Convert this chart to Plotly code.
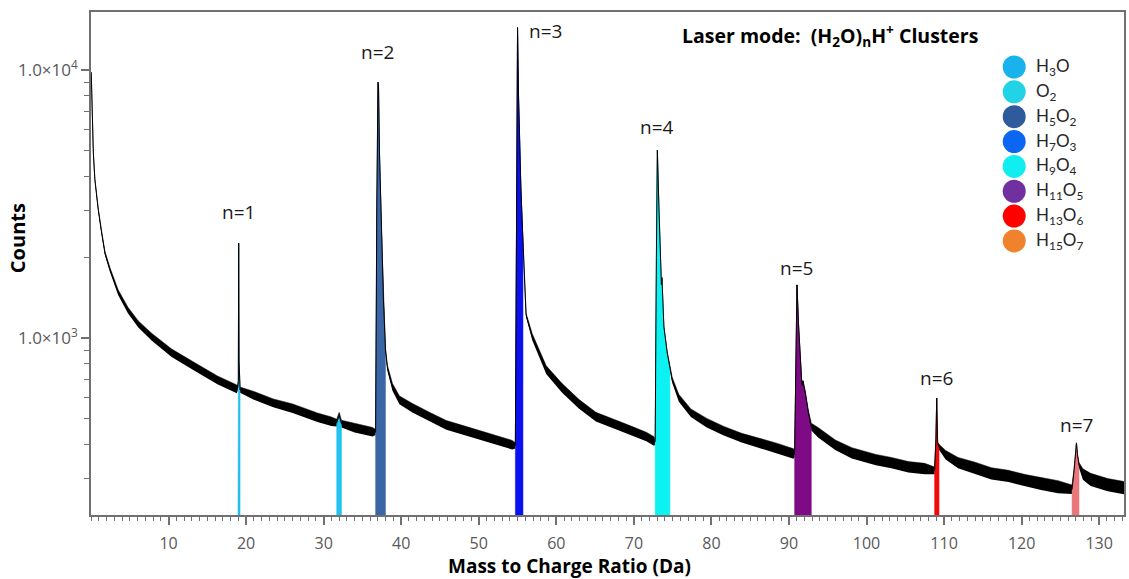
import plotly.graph_objects as go
import math

# ---------------- data ----------------
mz = [0.03, 0.17, 0.30, 0.50, 0.73, 0.94, 1.37, 1.80, 2.45, 3.09, 3.50, 4.76, 6.10, 7.85,
      10.4, 13.4, 16.3, 18.8, 18.92, 19.00, 19.04, 19.09, 19.22, 21.0, 23.5, 26.0, 29.2,
      31.0, 31.68, 32.0, 32.3, 34.0, 36.3, 36.70, 36.85, 37.00, 37.07, 37.19, 37.45, 37.71,
      37.97, 38.22, 38.87, 39.77, 41.44, 43.63, 45.82, 47.88, 50.06, 52.25, 54.31, 54.72,
      54.88, 55.00, 55.13, 55.28, 55.43, 55.64, 55.70, 55.86, 56.10, 56.90, 57.80, 58.70,
      60.75, 62.90, 65.10, 67.20, 69.40, 71.60, 72.60, 72.75, 72.90, 73.03, 73.23, 73.45,
      73.55, 73.62, 73.75, 73.87, 74.30, 74.65, 74.94, 75.80, 77.35, 79.40, 81.60, 83.90,
      86.10, 88.30, 90.60, 90.73, 90.90, 91.03, 91.25, 91.47, 91.64, 91.70, 91.80, 92.10,
      92.50, 92.88, 93.80, 95.97, 98.10, 101.2, 103.2, 105.4, 107.5, 108.78, 108.95, 109.05,
      109.17, 109.35, 110.2, 111.8, 114.0, 116.1, 118.3, 120.5, 122.5, 124.7, 126.5, 126.77,
      127.07, 127.2, 127.4, 127.9, 128.9, 131.1, 133.2]
counts = [9800, 5970, 4900, 3890, 3360, 3000, 2470, 2070, 1795, 1600, 1480, 1270, 1125, 1008,
          879, 780, 697, 645, 652, 690, 2260, 820, 640, 610, 572, 546, 505,
          488, 482, 515, 478, 462, 446, 445, 3000, 9000, 8900, 5020, 2530, 1387,
          902, 773, 656, 587, 548, 508, 473, 454, 435, 416, 399, 397,
          3000, 14400, 7930, 5020, 3660, 2530, 2280, 1718, 1218, 1008, 879, 760,
          650, 568, 508, 482, 454, 428, 412, 410, 2000, 5020, 3080, 1905,
          1580, 1680, 1327, 1100, 879, 760, 697, 597, 525, 482, 450, 424,
          406, 389, 370, 368, 800, 1578, 1100, 780, 686, 665, 690, 624,
          525, 466, 443, 399, 372, 351, 342, 330, 325, 320, 420, 597,
          406, 392, 366, 342, 327, 312, 305, 294, 286, 278, 272, 321,
          406, 366, 335, 310, 296, 283, 276]
# relative half-width of the noise band around the trace
noise = [0.004, 0.006, 0.008, 0.01, 0.012, 0.013, 0.015, 0.017, 0.019, 0.021, 0.023, 0.026, 0.029, 0.032,
         0.035, 0.036, 0.036, 0.036, 0.025, 0.01, 0.0, 0.01, 0.025, 0.036, 0.036, 0.04, 0.04,
         0.04, 0.032, 0.025, 0.032, 0.04, 0.04, 0.025, 0.0, 0.0, 0.0, 0.0, 0.0, 0.008,
         0.016, 0.024, 0.032, 0.036, 0.04, 0.04, 0.04, 0.04, 0.04, 0.04, 0.04, 0.025,
         0.0, 0.0, 0.0, 0.0, 0.0, 0.004, 0.004, 0.008, 0.016, 0.028, 0.032, 0.036,
         0.04, 0.04, 0.04, 0.04, 0.04, 0.04, 0.04, 0.025, 0.0, 0.0, 0.0, 0.0,
         0.0, 0.0, 0.004, 0.008, 0.012, 0.016, 0.024, 0.032, 0.036, 0.04, 0.04, 0.04,
         0.044, 0.044, 0.044, 0.025, 0.0, 0.0, 0.0, 0.004, 0.008, 0.008, 0.008, 0.016,
         0.024, 0.032, 0.044, 0.044, 0.048, 0.048, 0.048, 0.048, 0.048, 0.032, 0.008, 0.0,
         0.008, 0.024, 0.04, 0.048, 0.052, 0.052, 0.052, 0.052, 0.056, 0.056, 0.04, 0.016,
         0.0, 0.008, 0.024, 0.048, 0.056, 0.056, 0.056]

species = ["H<sub>3</sub>O", "O<sub>2</sub>", "H<sub>5</sub>O<sub>2</sub>", "H<sub>7</sub>O<sub>3</sub>",
           "H<sub>9</sub>O<sub>4</sub>", "H<sub>11</sub>O<sub>5</sub>", "H<sub>13</sub>O<sub>6</sub>",
           "H<sub>15</sub>O<sub>7</sub>"]
legend_colors = ["#1AB2EC", "#22D3E6", "#2F5A9C", "#0B66F2", "#10EEF0", "#7030A0", "#FF0000", "#F0822E"]
fill_colors = ["#22BDF0", "#21C4EE", "#3A66A6", "#0A10EE", "#0CF2F2", "#7E0A86", "#F00A0A", "#E8767A"]
range_lo = [18.92, 31.68, 36.70, 54.72, 72.75, 90.73, 108.78, 126.5]
range_hi = [19.22, 32.30, 37.97, 55.70, 74.65, 92.88, 109.35, 127.4]

cluster_labels = ["n=1", "n=2", "n=3", "n=4", "n=5", "n=6", "n=7"]
cluster_mz = [19.04, 37.00, 55.00, 73.03, 91.03, 109.05, 127.07]

x_ticks = [10, 20, 30, 40, 50, 60, 70, 80, 90, 100, 110, 120, 130]
y_ticks = [1000, 10000]
y_ticktext = ["1.0×10<sup>3</sup>", "1.0×10<sup>4</sup>"]
y_minor = [300, 400, 500, 600, 700, 800, 900, 2000, 3000, 4000, 5000, 6000, 7000, 8000, 9000]

# ---------------- figure ----------------
fig = go.Figure()

upper = [c * (1 + s) for c, s in zip(counts, noise)]
lower = [c / (1 + s) for c, s in zip(counts, noise)]

fig.add_trace(go.Scatter(x=mz, y=lower, mode="lines", line=dict(color="black", width=0),
                         showlegend=False, hoverinfo="skip"))
fig.add_trace(go.Scatter(x=mz, y=upper, mode="lines", line=dict(color="black", width=0.5),
                         fill="tonexty", fillcolor="black", showlegend=False, hoverinfo="skip"))

FLOOR = 100
for name, col, lo, hi in zip(species, fill_colors, range_lo, range_hi):
    xs = [m for m in mz if lo <= m <= hi]
    ys = [c for m, c in zip(mz, counts) if lo <= m <= hi]
    px = [xs[0]] + xs + [xs[-1], xs[0]]
    py = [FLOOR] + ys + [FLOOR, FLOOR]
    fig.add_trace(go.Scatter(x=px, y=py, mode="lines", fill="toself", fillcolor=col,
                             line=dict(color=col, width=0.5), name=name, showlegend=False))

fig.add_trace(go.Scatter(x=mz, y=counts, mode="lines", line=dict(color="black", width=1),
                         showlegend=False, name="Counts"))

FRAME = "#707070"

fig.update_xaxes(range=[0, 133.2], tickmode="array", tickvals=x_ticks,
                 ticks="outside", ticklen=8, tickwidth=1.5, tickcolor=FRAME,
                 minor=dict(dtick=1, tick0=0, ticks="outside", ticklen=4, tickwidth=1, tickcolor=FRAME),
                 showline=True, linecolor=FRAME, linewidth=1.5, mirror=True, ticklabelstandoff=5,
                 showgrid=False, zeroline=False, tickfont=dict(family="Open Sans", size=16, color="#595959"))
fig.update_yaxes(type="log", range=[2.3396, 4.2164], tickmode="array", tickvals=y_ticks,
                 ticktext=y_ticktext, ticks="outside", ticklen=8, tickwidth=1.5, tickcolor=FRAME,
                 minor=dict(tickmode="array", tickvals=y_minor, ticks="outside", ticklen=5,
                            tickwidth=1, tickcolor=FRAME),
                 showline=True, linecolor=FRAME, linewidth=1.5, mirror=True,
                 showgrid=False, zeroline=False, tickfont=dict(family="Open Sans", size=17, color="#595959"))

L, R, T, B = 91, 3, 12, 64
W, H = 1129, 579
pw, ph = W - L - R, H - T - B

def paper_x(px):
    return (px - L) / pw

def paper_y(py):
    return (H - B - py) / ph

annotations = []
# axis titles
annotations.append(dict(text="<b>Counts</b>", x=paper_x(18), y=paper_y(238), xref="paper", yref="paper",
                        xanchor="center", yanchor="middle", textangle=-90, showarrow=False,
                        font=dict(family="Open Sans", size=20, color="black")))
annotations.append(dict(text="<b>Mass to Charge Ratio (Da)</b>", x=paper_x(570), y=paper_y(566),
                        xref="paper", yref="paper", xanchor="center", yanchor="middle", showarrow=False,
                        font=dict(family="Open Sans", size=19, color="black")))
# title
annotations.append(dict(text="<b>Laser mode:  (H<sub>2</sub>O)<sub>n</sub>H<sup>+</sup> Clusters</b>",
                        x=paper_x(831), y=paper_y(35), xref="paper", yref="paper",
                        xanchor="center", yanchor="middle", showarrow=False,
                        font=dict(family="Open Sans", size=19.5, color="black")))
# cluster labels
shifts = [(0, 31), (0, 30), (28, -3), (0, 23), (0, 17), (0, 20), (0, 18)]
for lab, m, (dx, dy) in zip(cluster_labels, cluster_mz, shifts):
    c = counts[mz.index(m)]
    annotations.append(dict(text=lab, x=m, y=math.log10(c), xref="x", yref="y", showarrow=False,
                            xanchor="center", yanchor="middle", xshift=dx, yshift=dy,
                            font=dict(family="Open Sans", size=19, color="#1a1a1a")))

# manual legend
shapes = []
for i, (name, col) in enumerate(zip(species, legend_colors)):
    cy = 67 + i * 24.85
    shapes.append(dict(type="circle", xref="paper", yref="paper", xsizemode="pixel", ysizemode="pixel",
                       xanchor=paper_x(1016), yanchor=paper_y(cy), x0=-11.5, x1=11.5, y0=-11.5, y1=11.5,
                       fillcolor=col, line=dict(width=0)))
    annotations.append(dict(text=name, x=paper_x(1036), y=paper_y(cy), xref="paper", yref="paper",
                            xanchor="left", yanchor="middle", showarrow=False,
                            font=dict(family="Lato", size=17, color="#262626")))

fig.update_layout(width=W, height=H, autosize=False, margin=dict(l=L, r=R, t=T, b=B),
                  paper_bgcolor="white", plot_bgcolor="white", showlegend=False,
                  annotations=annotations, shapes=shapes)

fig.write_html("out.html")
